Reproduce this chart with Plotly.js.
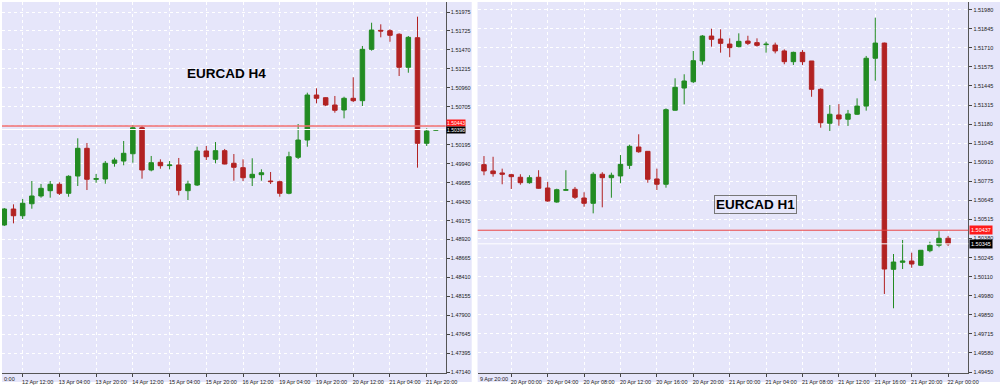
<!DOCTYPE html>
<html><head><meta charset="utf-8">
<script src="https://cdn.plot.ly/plotly-3.0.1.min.js"></script>
<style>html,body{margin:0;padding:0;background:#fff;}#chart{width:1000px;height:388px;}</style>
</head><body><div id="chart"></div>
<script>
// ---------- EURCAD H4 (left panel) ----------
const h4Open  = [1.49117,1.49331,1.49241,1.49402,1.49506,1.49577,1.49663,1.49542,1.49774,1.50146,1.49730,1.49734,1.49945,1.49975,1.50073,1.50422,1.49855,1.49958,1.49914,1.49922,1.49577,1.49653,1.50110,1.49998,1.50114,1.49945,1.49886,1.49751,1.49792,1.49707,1.49698,1.49542,1.50025,1.50257,1.50861,1.50825,1.50727,1.50660,1.50817,1.50785,1.51474,1.51729,1.51724,1.51676,1.51233,1.51630,1.50213,1.50388];
const h4High  = [1.49345,1.49394,1.49466,1.49707,1.49667,1.49707,1.49690,1.49784,1.50280,1.50217,1.49801,1.49975,1.50020,1.50244,1.50459,1.50449,1.50043,1.49998,1.49975,1.50016,1.49711,1.50167,1.50177,1.50230,1.50137,1.50069,1.49998,1.50012,1.49864,1.49828,1.49711,1.50100,1.50472,1.50892,1.50951,1.50830,1.50848,1.50838,1.51099,1.51519,1.51831,1.51810,1.51743,1.51689,1.51653,1.51912,1.50414,1.50402];
const h4Low   = [1.49103,1.49139,1.49197,1.49335,1.49483,1.49483,1.49519,1.49496,1.49640,1.49586,1.49684,1.49671,1.49899,1.49918,1.49953,1.49738,1.49837,1.49872,1.49864,1.49515,1.49452,1.49640,1.49989,1.49945,1.49931,1.49711,1.49707,1.49640,1.49711,1.49667,1.49496,1.49529,1.50002,1.50167,1.50750,1.50713,1.50624,1.50548,1.50767,1.50713,1.51456,1.51635,1.51576,1.51116,1.51160,1.49886,1.50177,1.50380];
const h4Close = [1.49331,1.49241,1.49408,1.49506,1.49609,1.49663,1.49542,1.49770,1.50146,1.49730,1.49738,1.49945,1.49989,1.50079,1.50422,1.49855,1.49953,1.49912,1.49922,1.49582,1.49667,1.50110,1.50033,1.50114,1.49935,1.49891,1.49751,1.49797,1.49818,1.49699,1.49542,1.50033,1.50257,1.50861,1.50817,1.50727,1.50656,1.50817,1.50785,1.51474,1.51733,1.51720,1.51662,1.51233,1.51635,1.50213,1.50378,1.50398];
const h4TickBars   = [2,6,10,14,18,22,26,30,34,38,42,46];
const h4TickLabels = ["12 Apr 12:00","13 Apr 04:00","13 Apr 20:00","14 Apr 12:00","15 Apr 04:00","15 Apr 20:00","16 Apr 12:00","19 Apr 04:00","19 Apr 20:00","20 Apr 12:00","21 Apr 04:00","21 Apr 20:00"];
const h4PriceLow = 1.47140, h4PriceHigh = 1.51975;
const h4PriceLabels = ["1.47140","1.47395","1.47645","1.47900","1.48155","1.48410","1.48665","1.48920","1.49175","1.49430","1.49685","1.49940","1.50195","1.50450","1.50705","1.50960","1.51215","1.51470","1.51725","1.51975"];
const h4AskLine = 1.50445, h4AskText = "1.50443";
const h4BidLine = 1.50398, h4BidText = "1.50398";

// ---------- EURCAD H1 (right panel) ----------
const h1Open  = [1.50898,1.50854,1.50840,1.50828,1.50810,1.50772,1.50810,1.50735,1.50637,1.50719,1.50726,1.50665,1.50628,1.50831,1.50807,1.50819,1.50893,1.51021,1.50991,1.50798,1.50761,1.51278,1.51433,1.51477,1.51622,1.51796,1.51775,1.51740,1.51722,1.51761,1.51750,1.51736,1.51733,1.51692,1.51617,1.51682,1.51622,1.51424,1.51187,1.51245,1.51215,1.51250,1.51307,1.51641,1.51747,1.50167,1.50216,1.50225,1.50195,1.50297,1.50335,1.50384];
const h1High  = [1.50958,1.50953,1.50870,1.50833,1.50831,1.50824,1.50859,1.50777,1.50730,1.50859,1.50742,1.50705,1.50845,1.50845,1.50842,1.50965,1.51037,1.51110,1.50993,1.50870,1.51291,1.51501,1.51529,1.51692,1.51803,1.51847,1.51843,1.51780,1.51815,1.51798,1.51780,1.51756,1.51750,1.51703,1.51687,1.51698,1.51622,1.51431,1.51314,1.51321,1.51280,1.51361,1.51657,1.51924,1.51750,1.50274,1.50372,1.50283,1.50300,1.50360,1.50433,1.50400];
const h1Low   = [1.50824,1.50814,1.50761,1.50728,1.50758,1.50765,1.50730,1.50639,1.50632,1.50714,1.50658,1.50604,1.50558,1.50600,1.50667,1.50768,1.50868,1.50981,1.50772,1.50721,1.50737,1.51275,1.51319,1.51468,1.51596,1.51722,1.51680,1.51648,1.51717,1.51733,1.51722,1.51680,1.51675,1.51599,1.51594,1.51594,1.51372,1.51156,1.51133,1.51170,1.51168,1.51245,1.51275,1.51484,1.49995,1.49895,1.50169,1.50178,1.50190,1.50286,1.50321,1.50330];
const h1Close = [1.50854,1.50835,1.50831,1.50814,1.50772,1.50807,1.50733,1.50644,1.50723,1.50723,1.50670,1.50628,1.50831,1.50807,1.50824,1.50900,1.51026,1.50988,1.50796,1.50761,1.51282,1.51438,1.51482,1.51624,1.51796,1.51773,1.51745,1.51715,1.51759,1.51745,1.51731,1.51739,1.51692,1.51617,1.51682,1.51617,1.51424,1.51191,1.51250,1.51217,1.51252,1.51307,1.51641,1.51747,1.50169,1.50218,1.50225,1.50204,1.50300,1.50335,1.50384,1.50345];
const h1TickBars   = [3,7,11,15,19,23,27,31,35,39,43,47,51];
const h1TickLabels = ["20 Apr 00:00","20 Apr 04:00","20 Apr 08:00","20 Apr 12:00","20 Apr 16:00","20 Apr 20:00","21 Apr 00:00","21 Apr 04:00","21 Apr 08:00","21 Apr 12:00","21 Apr 16:00","21 Apr 20:00","22 Apr 00:00"];
const h1PriceLow = 1.49450, h1PriceHigh = 1.51980;
const h1PriceLabels = ["1.49450","1.49580","1.49715","1.49850","1.49980","1.50110","1.50245","1.50380","1.50515","1.50645","1.50775","1.50910","1.51045","1.51180","1.51315","1.51445","1.51575","1.51710","1.51845","1.51980"];
const h1AskLine = 1.50440, h1AskText = "1.50437";
const h1BidLine = 1.50345, h1BidText = "1.50345";

// ---------- styling ----------
const W = 1000, H = 388;
const px = v => v / W, py = v => (H - v) / H;
const BG = "#E6E6FA", GREEN = "#228B22", RED = "#B22222";
const FONT = "Liberation Sans, Arial, sans-serif";
const tickFont = {family: FONT, size: 5.5, color: "#222"};

function idx(arr) { return arr.map((_, i) => i); }
function levels(lo, hi, n) { const out = []; for (let k = 0; k < n; k++) out.push(lo + (hi - lo) * k / (n - 1)); return out; }
// tick labels hidden behind the price tags in the terminal
function hideUnder(vals, labels, price, tol) { return labels.map((t, i) => Math.abs(vals[i] - price) < tol ? "" : t); }

function candle(o, h, l, c, xa, ya) {
  return {
    type: "candlestick", x: idx(o), open: o, high: h, low: l, close: c,
    xaxis: xa, yaxis: ya, hoverinfo: "skip", showlegend: false, whiskerwidth: 0,
    increasing: {line: {color: GREEN, width: 1}, fillcolor: GREEN},
    decreasing: {line: {color: RED, width: 1}, fillcolor: RED}
  };
}

const data = [
  candle(h4Open, h4High, h4Low, h4Close, "x", "y"),
  candle(h1Open, h1High, h1Low, h1Close, "x2", "y2")
];

const yDom = [py(373), py(2)];
function xAxis(dom, range, tv, tt) {
  return {
    domain: dom, range: range, tickvals: tv, ticktext: tt, tickfont: tickFont,
    ticks: "outside", ticklen: 3, tickcolor: "#444", ticklabelshift: 15,
    showline: true, linecolor: "#555", linewidth: 1, zeroline: false,
    showgrid: true, gridcolor: "#FFFFFF", griddash: "dot", gridwidth: 1,
    rangeslider: {visible: false}, fixedrange: true
  };
}
function yAxis(anchor, range, tv, tt) {
  return {
    domain: yDom, range: range, anchor: anchor, side: "right",
    tickvals: tv, ticktext: tt, tickfont: tickFont,
    ticks: "outside", ticklen: 3, tickcolor: "#444",
    showline: true, linecolor: "#555", linewidth: 1, zeroline: false,
    showgrid: true, gridcolor: "#FFFFFF", griddash: "dot", gridwidth: 1, fixedrange: true
  };
}

const h4PerPx = (h4PriceHigh - h4PriceLow) / 360.3;
const h1PerPx = (h1PriceHigh - h1PriceLow) / 362.3;
const h4Levels = levels(h4PriceLow, h4PriceHigh, 20);
const h1Levels = levels(h1PriceLow, h1PriceHigh, 20);

const layout = {
  width: W, height: H, margin: {l: 0, r: 0, t: 0, b: 0},
  paper_bgcolor: "#FFFFFF", plot_bgcolor: BG, showlegend: false,
  xaxis: xAxis([px(2), px(445.7)], [-0.25, 48.07], h4TickBars, h4TickLabels),
  yaxis: yAxis("x", [h4PriceLow - 0.7 * h4PerPx, h4PriceLow + 370.3 * h4PerPx], h4Levels,
               hideUnder(h4Levels, h4PriceLabels, h4AskLine, 4 * h4PerPx)),
  xaxis2: xAxis([px(477.7), px(968.3)], [-0.69, 53.22], h1TickBars, h1TickLabels),
  yaxis2: yAxis("x2", [h1PriceLow - 1 * h1PerPx, h1PriceLow + 370 * h1PerPx], h1Levels, h1PriceLabels),
  shapes: [
    {type: "rect", xref: "paper", yref: "paper", x0: px(2), x1: px(471.7), y0: py(382), y1: py(2), fillcolor: BG, line: {width: 0}, layer: "below"},
    {type: "rect", xref: "paper", yref: "paper", x0: px(477.7), x1: 1, y0: py(382), y1: py(2), fillcolor: BG, line: {width: 0}, layer: "below"},
    {type: "line", xref: "x domain", yref: "y", x0: 0, x1: 1, y0: h4BidLine, y1: h4BidLine, line: {color: "#FFFFFF", width: 1}},
    {type: "line", xref: "x domain", yref: "y", x0: 0, x1: 1, y0: h4AskLine, y1: h4AskLine, line: {color: "rgb(240,110,110)", width: 1.5}},
    {type: "line", xref: "x2 domain", yref: "y2", x0: 0, x1: 1, y0: h1BidLine, y1: h1BidLine, line: {color: "#FFFFFF", width: 1}},
    {type: "line", xref: "x2 domain", yref: "y2", x0: 0, x1: 1, y0: h1AskLine, y1: h1AskLine, line: {color: "rgb(235,70,70)", width: 1}}
  ],
  annotations: [
    {xref: "paper", yref: "paper", x: px(226), y: py(73), xanchor: "center", yanchor: "middle", text: "<b>EURCAD H4</b>", showarrow: false,
     font: {family: FONT, size: 13.5, color: "#000"}},
    {xref: "paper", yref: "paper", x: px(755.3), y: py(204.7), xanchor: "center", yanchor: "middle", text: "<b>EURCAD H1</b>", showarrow: false,
     font: {family: FONT, size: 13.5, color: "#000"},
     bordercolor: "#777", borderwidth: 1, borderpad: 1, bgcolor: "rgba(0,0,0,0)"},
    {xref: "paper", yref: "y", x: px(446), xanchor: "left", y: h4AskLine, yanchor: "middle", yshift: 3, text: h4AskText, showarrow: false,
     font: {family: FONT, size: 5, color: "#FFF"}, bgcolor: "#FF1A1A", borderpad: 0},
    {xref: "paper", yref: "y", x: px(446), xanchor: "left", y: h4BidLine, yanchor: "middle", yshift: -0.5, text: h4BidText, showarrow: false,
     font: {family: FONT, size: 5, color: "#FFF"}, bgcolor: "#000", borderpad: 0},
    {xref: "paper", yref: "y2", x: px(969), xanchor: "left", y: h1AskLine, yanchor: "middle", text: h1AskText, showarrow: false,
     font: {family: FONT, size: 5.5, color: "#FFF"}, bgcolor: "#FF1A1A", borderpad: 1},
    {xref: "paper", yref: "y2", x: px(969), xanchor: "left", y: h1BidLine, yanchor: "middle", text: h1BidText, showarrow: false,
     font: {family: FONT, size: 5.5, color: "#FFF"}, bgcolor: "#000", borderpad: 1},
    {xref: "paper", yref: "paper", x: px(2), xanchor: "left", y: py(379), yanchor: "middle", text: "0:00", showarrow: false, font: tickFont},
    {xref: "paper", yref: "paper", x: px(478), xanchor: "left", y: py(379), yanchor: "middle", text: "9 Apr 20:00", showarrow: false, font: tickFont}
  ]
};

Plotly.newPlot("chart", data, layout, {staticPlot: true, displayModeBar: false});
</script>
</body></html>
